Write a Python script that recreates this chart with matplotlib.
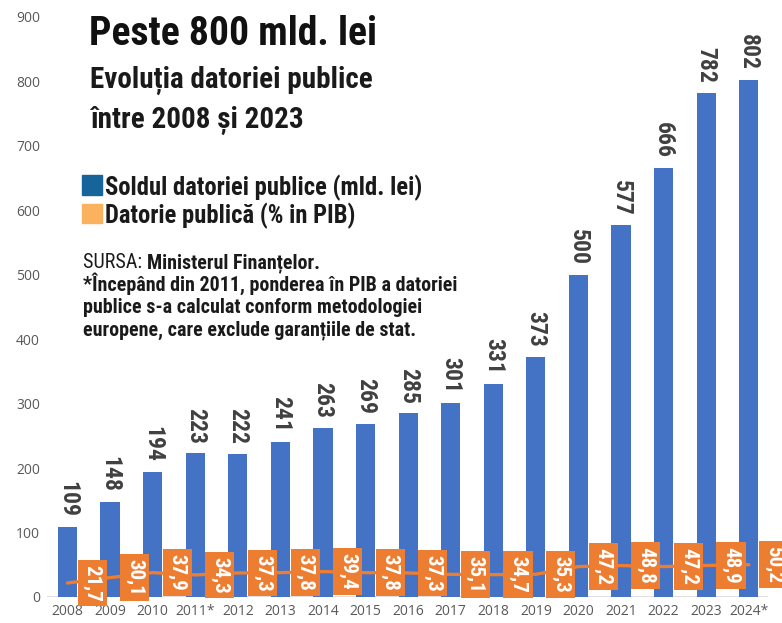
import matplotlib
matplotlib.use("Agg")
import matplotlib.pyplot as plt
from matplotlib import font_manager
from matplotlib.patches import Rectangle

years = ["2008", "2009", "2010", "2011*", "2012", "2013", "2014", "2015", "2016",
         "2017", "2018", "2019", "2020", "2021", "2022", "2023", "2024*"]
debt_bn = [109, 148, 194, 223, 222, 241, 263, 269, 285, 301, 331, 373, 500, 577, 666, 782, 802]
debt_pct = [21.7, 30.1, 37.9, 34.3, 37.3, 37.8, 39.4, 37.8, 37.3, 35.1, 34.7, 35.3,
            47.2, 48.8, 47.2, 48.9, 50.2]
yticks = [0, 100, 200, 300, 400, 500, 600, 700, 800, 900]

available = {f.name for f in font_manager.fontManager.ttflist}
narrow = "DejaVu Sans"
for cand in ["Liberation Sans Narrow", "Roboto Condensed", "Open Sans Condensed", "Arial Narrow"]:
    if cand in available:
        narrow = cand
        break
tick_font = "Open Sans" if "Open Sans" in available else "DejaVu Sans"

W, H = 782, 623
fig = plt.figure(figsize=(W / 100, H / 100), dpi=100)

def fx(px):
    return px / W

def fy(py):
    return 1 - py / H

ax = fig.add_axes([fx(47), fy(597), fx(768) - fx(47), fy(17) - fy(597)])

BLUE = "#4472C4"
ORANGE = "#ED7D31"

x = list(range(len(years)))
ax.bar(x, debt_bn, width=0.45, color=BLUE, zorder=2)
ax.plot(x, debt_pct, color=ORANGE, lw=2.4, zorder=3, solid_capstyle="round")

for xi, v in zip(x, debt_bn):
    ax.annotate(str(v), (xi, v), xytext=(0, 7), textcoords="offset points",
                rotation=270, ha="center", va="bottom", fontsize=17,
                fontweight="bold", color="#404040", family=narrow)

for xi, p in zip(x, debt_pct):
    ax.annotate(f"{p:.1f}".replace(".", ","), (xi + 0.58, p), rotation=270,
                ha="center", va="center", fontsize=15, fontweight="bold",
                color="white", family=narrow, zorder=5, annotation_clip=False,
                bbox=dict(boxstyle="square,pad=0.24", fc=ORANGE, ec="none"))

ax.set_xlim(-0.48, 16.45)
ax.set_ylim(0, 900)
ax.set_yticks(yticks)
ax.set_xticks(x)
ax.set_xticklabels(years)
for s in ax.spines.values():
    s.set_visible(False)
ax.axhline(0, color="#d9d9d9", lw=1.2, zorder=1)
ax.tick_params(length=0, labelsize=10, labelcolor="#595959", pad=5)
ax.tick_params(axis="x", pad=5)
for lab in ax.get_xticklabels() + ax.get_yticklabels():
    lab.set_family(tick_font)

# Titles
fig.text(fx(89), fy(45), "Peste 800 mld. lei", fontsize=28.5, fontweight=900,
         family=narrow, color="#111111", va="baseline", ha="left")
fig.text(fx(90), fy(88), "Evoluția datoriei publice", fontsize=21, fontweight="bold",
         family=narrow, color="#1a1a1a", va="baseline", ha="left")
fig.text(fx(90), fy(128), "între 2008 și 2023", fontsize=21, fontweight="bold",
         family=narrow, color="#1a1a1a", va="baseline", ha="left")

# Legend
fig.patches.append(Rectangle((fx(82), fy(195)), fx(20), fy(175) - fy(195),
                             transform=fig.transFigure, color="#17649A"))
fig.patches.append(Rectangle((fx(82), fy(223)), fx(20), fy(204) - fy(223),
                             transform=fig.transFigure, color="#FBB25F"))
fig.text(fx(105), fy(195), "Soldul datoriei publice (mld. lei)", fontsize=17.7,
         fontweight="bold", family=narrow, color="#1a1a1a", va="baseline")
fig.text(fx(105), fy(223), "Datorie publică (% in PIB)", fontsize=17.7,
         fontweight="bold", family=narrow, color="#1a1a1a", va="baseline")

# Source
FS = 14.4
t = fig.text(fx(83), fy(268), "SURSA: ", fontsize=FS, family=narrow,
             color="#1a1a1a", va="baseline")
fig.canvas.draw()
bb = t.get_window_extent()
fig.text(bb.x1 / W, fy(268), "Ministerul Finanțelor.", fontsize=FS,
         fontweight="bold", family=narrow, color="#1a1a1a", va="baseline")
notes = ["*Începând din 2011, ponderea în PIB a datoriei",
         "publice s-a calculat conform metodologiei",
         "europene, care exclude garanțiile de stat."]
for i, line in enumerate(notes):
    fig.text(fx(83), fy(291 + 22 * i), line, fontsize=FS, fontweight="bold",
             family=narrow, color="#1a1a1a", va="baseline")

fig.savefig("out.png", dpi=100)
